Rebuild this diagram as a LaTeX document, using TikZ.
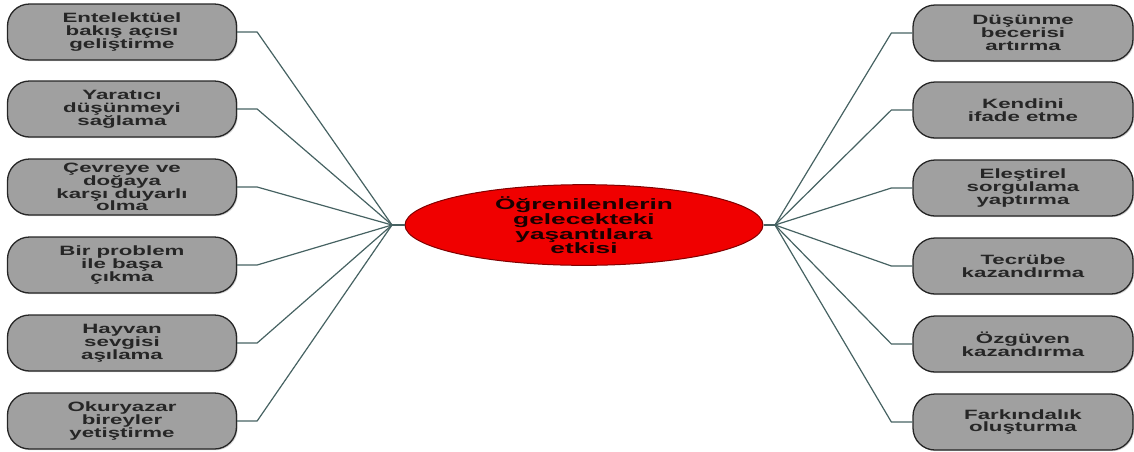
\documentclass[tikz,border=0pt]{standalone}
\usepackage{fontspec}
\newfontfamily\boxfont{Liberation Sans}[FakeStretch=1.65]
\newfontfamily\hubfont{Liberation Sans}[FakeStretch=1.75]
\usetikzlibrary{shapes.geometric,shadows}
\definecolor{linkgray}{RGB}{70,98,98}
\definecolor{boxgray}{RGB}{160,160,160}
\definecolor{hubred}{RGB}{240,0,0}
\tikzset{>=latex,
    item/.style = {draw = black!85, line width = 1.3pt, fill = boxgray, rounded corners = 22pt,
        minimum height = 56pt, inner sep = 0pt, align = center, text = black!85,
        font = \boxfont\bfseries\fontsize{13.5}{12.8}\selectfont,
        drop shadow = {shadow xshift = 1.2pt, shadow yshift = -1.2pt, opacity = 0.35}},
    leftitem/.style = {item, minimum width = 229pt},
    rightitem/.style = {item, minimum width = 220pt},
    hub/.style = {ellipse, draw = red!50!black, line width = 1pt, fill = hubred,
        minimum width = 358pt, minimum height = 76pt, inner sep = 0pt, align = center,
        font = \hubfont\bfseries\fontsize{15}{14}\selectfont, text = black!90!red},
    link/.style = {draw = linkgray, line width = 1.2pt}
}

\begin{document}
\begin{tikzpicture}[x = 1pt, y = -1pt, line join = round]
    \useasboundingbox (0,0) rectangle (1134,451);

    \node[hub] (hub) at (584,225) {Öğrenilenlerin\\gelecekteki\\yaşantılara\\etkisi};
    \coordinate (ljoin) at (392,225);
    \coordinate (rjoin) at (775,225);

    % left side
    \node[leftitem] (l1) at (122,32) {Entelektüel\\bakış açısı\\geliştirme};
    \node[leftitem] (l2) at (122,109) {Yaratıcı\\düşünmeyi\\sağlama};
    \node[leftitem] (l3) at (122,187) {Çevreye ve\\doğaya\\karşı duyarlı\\olma};
    \node[leftitem] (l4) at (122,265) {Bir problem\\ile başa\\çıkma};
    \node[leftitem] (l5) at (122,343) {Hayvan\\sevgisi\\aşılama};
    \node[leftitem] (l6) at (122,421) {Okuryazar\\bireyler\\yetiştirme};

    % right side
    \node[rightitem] (r1) at (1023,33) {Düşünme\\becerisi\\artırma};
    \node[rightitem] (r2) at (1023,110) {Kendini\\ifade etme};
    \node[rightitem] (r3) at (1023,188) {Eleştirel\\sorgulama\\yaptırma};
    \node[rightitem] (r4) at (1023,266) {Tecrübe\\kazandırma};
    \node[rightitem] (r5) at (1023,344) {Özgüven\\kazandırma};
    \node[rightitem] (r6) at (1023,422) {Farkındalık\\oluşturma};

    \draw[link] (ljoin) -- (hub.west);
    \draw[link] (hub.east) -- (rjoin);
    \foreach \n in {l1,l2,l3,l4,l5,l6}
        \draw[link] (\n.east) -- ++(20,0) -- (ljoin);
    \foreach \n in {r1,r2,r3,r4,r5,r6}
        \draw[link] (\n.west) -- ++(-21,0) -- (rjoin);

\end{tikzpicture}
\end{document}
